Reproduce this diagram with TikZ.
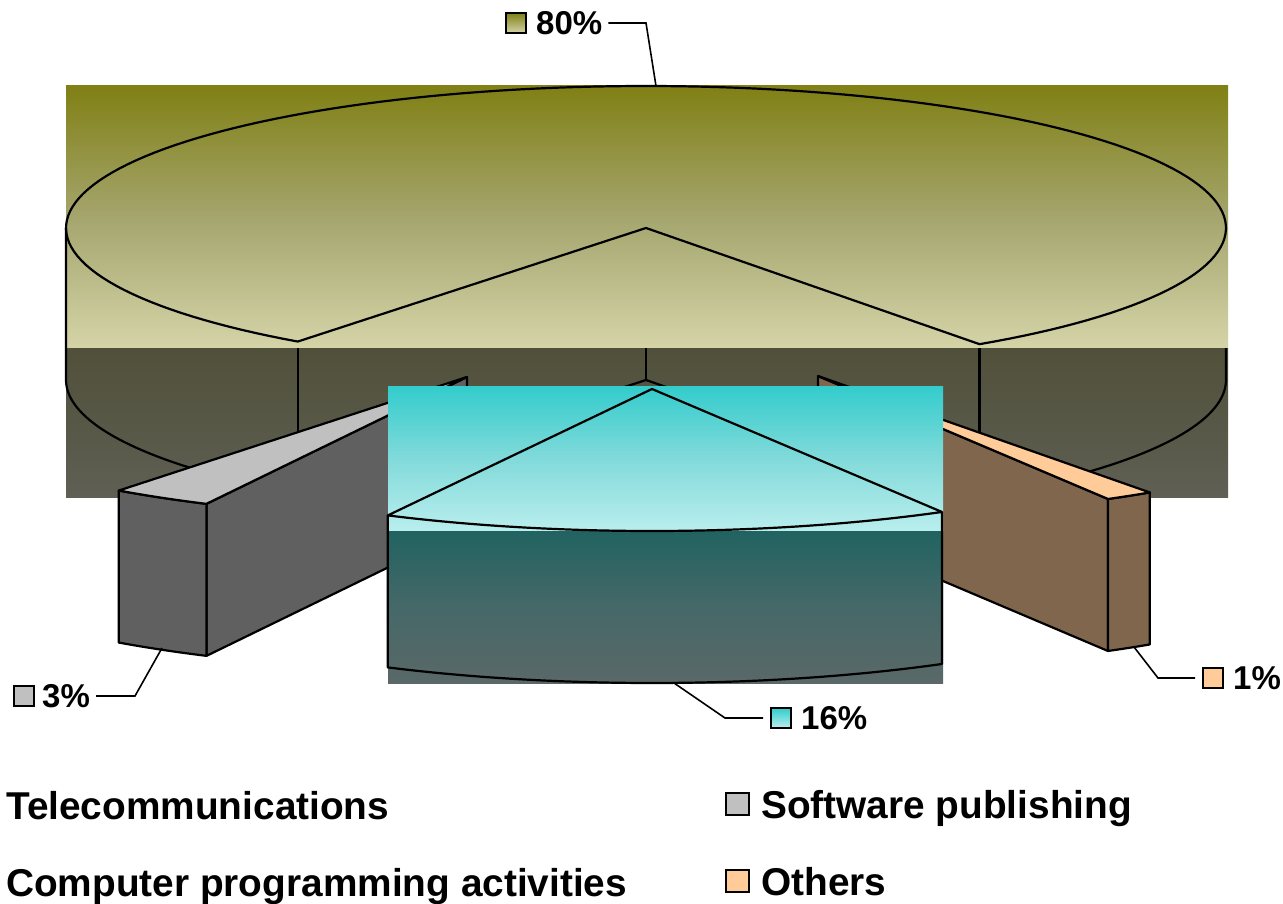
\documentclass[tikz,border=0pt]{standalone}
\usepackage{fontspec}
\setmainfont{Liberation Sans}
\definecolor{oliveT}{RGB}{128,128,21}
\definecolor{oliveM}{RGB}{165,165,110}
\definecolor{oliveB}{RGB}{212,212,168}
\definecolor{sideT}{RGB}{80,80,58}
\definecolor{sideB}{RGB}{95,95,84}
\definecolor{tealT}{RGB}{51,204,204}
\definecolor{tealM}{RGB}{130,218,218}
\definecolor{tealB}{RGB}{186,238,238}
\definecolor{tdT}{RGB}{33,99,97}
\definecolor{tdM}{RGB}{70,104,104}
\definecolor{tdB}{RGB}{90,104,104}
\definecolor{greyTop}{RGB}{192,192,192}
\definecolor{greySide}{RGB}{96,96,96}
\definecolor{orTop}{RGB}{255,204,153}
\definecolor{orSide}{RGB}{128,102,76}
\begin{document}
\begin{tikzpicture}[x=1pt,y=-1pt,
  outl/.style={draw=black,line width=2.2pt,line join=round},
  leader/.style={draw=black,line width=1.6pt},
  keybox/.style={draw=black,line width=1.8pt,inner sep=0pt,minimum size=20pt},
  legbox/.style={draw=black,line width=1.8pt,inner sep=0pt,minimum width=23pt,minimum height=22pt},
  pct/.style={font=\fontsize{33}{36}\selectfont\bfseries,inner sep=0pt,anchor=west},
  legtxt/.style={font=\fontsize{38.8}{42}\selectfont\bfseries,inner sep=0pt,anchor=base west},
]
\useasboundingbox (0,0) rectangle (1283,904);
\fill[white] (0,0) rectangle (1283,904);

% ---------- 80% slice (Telecommunications) ----------
\shade[top color=oliveT, bottom color=oliveB, middle color=oliveM] (66,86) rectangle (1228,348);
\draw[outl] (646,228) -- plot[domain=126.9:414.9, samples=160] ({646+580*cos(\x)},{228+142*sin(\x)}) -- cycle;
\shade[top color=sideT, bottom color=sideB] (66,348) rectangle (1228,497);
\draw[outl] (66,228) -- (66,380) -- plot[domain=180:126.9, samples=40] ({646+580*cos(\x)},{380+142*sin(\x)});
\draw[outl] (297.8,348) -- (297.8,493.5);
\draw[outl] (646,348) -- (646,380);
\draw[outl] (297.8,493.5) -- (646,380) -- (979.5,496.2);
\draw[outl] (979.5,348) -- (979.5,496.2);
\draw[outl] (1226,348) -- (1226,380) -- plot[domain=0:54.9, samples=40] ({646+580*cos(\x)},{380+142*sin(\x)});

% ---------- 3% slice (Software publishing) ----------
\filldraw[fill=greySide, outl] (467,377) -- (206.4,503.9) -- (206.4,655.9) -- (467,529) -- cycle;
\filldraw[fill=greySide, outl] plot[domain=116.7:126.9, samples=20] ({467+580*cos(\x)},{377+142*sin(\x)})
   -- plot[domain=126.9:116.7, samples=20] ({467+580*cos(\x)},{529+142*sin(\x)}) -- cycle;
\filldraw[fill=greyTop, outl] (467,377) -- plot[domain=116.7:126.9, samples=20] ({467+580*cos(\x)},{377+142*sin(\x)}) -- cycle;

% ---------- 1% slice (Others) ----------
\filldraw[fill=orSide, outl] (818,376) -- (1108,499) -- (1108,651) -- (818,528) -- cycle;
\filldraw[fill=orSide, outl] plot[domain=55.1:60, samples=10] ({818+580*cos(\x)},{376+142*sin(\x)})
   -- plot[domain=60:55.1, samples=10] ({818+580*cos(\x)},{528+142*sin(\x)}) -- cycle;
\filldraw[fill=orTop, outl] (818,376) -- plot[domain=55.1:60, samples=10] ({818+580*cos(\x)},{376+142*sin(\x)}) -- cycle;

% ---------- 16% slice (Computer programming activities) ----------
\shade[top color=tealT, bottom color=tealB, middle color=tealM] (388,386) rectangle (943,531.5);
\shade[top color=tdT, bottom color=tdB, middle color=tdM] (388,531.5) rectangle (943,683.5);
\draw[outl] (652,389) -- plot[domain=60:117.1, samples=60] ({652+580*cos(\x)},{389+142*sin(\x)}) -- cycle;
\draw[outl] (387.8,515.4) -- plot[domain=117.1:60, samples=60] ({652+580*cos(\x)},{541+142*sin(\x)}) -- (942,512);

% ---------- data labels ----------
\coordinate (c80) at (656,86);
\coordinate (b80) at (646,23);
\node[keybox, top color=oliveT, bottom color=oliveB] (k80) at (516,23) {};
\node[pct] (t80) at (536,23) {80\%};
\draw[leader] (c80) -- (b80) -- ([xshift=6pt]t80.east);

\coordinate (c3) at (162,648);
\coordinate (b3) at (135,696);
\node[keybox, fill=greyTop] (k3) at (24,696) {};
\node[pct] (t3) at (42,696) {3\%};
\draw[leader] (c3) -- (b3) -- ([xshift=6pt]t3.east);

\coordinate (c16) at (674,683);
\coordinate (b16) at (725,718);
\node[keybox, top color=tealT, bottom color=tealB] (k16) at (781,718) {};
\node[pct] (t16) at (801,718) {16\%};
\draw[leader] (c16) -- (b16) -- ([xshift=-7pt]k16.west);

\coordinate (c1) at (1134,647);
\coordinate (b1) at (1158,678);
\node[keybox, fill=orTop] (k1) at (1213,678) {};
\node[pct] (t1) at (1233,678) {1\%};
\draw[leader] (c1) -- (b1) -- ([xshift=-7pt]k1.west);

% ---------- legend ----------
\node[legtxt] (tTel) at (6,819) {Telecommunications};
\node[legtxt] (tComp) at (6,896) {Computer programming activities};
\node[legbox, fill=greyTop] (kSw) at (737.5,804) {};
\node[legtxt] (tSw) at (761,818) {Software publishing};
\node[legbox, fill=orTop] (kOth) at (737.5,881) {};
\node[legtxt] (tOth) at (761,895) {Others};
\end{tikzpicture}
\end{document}
